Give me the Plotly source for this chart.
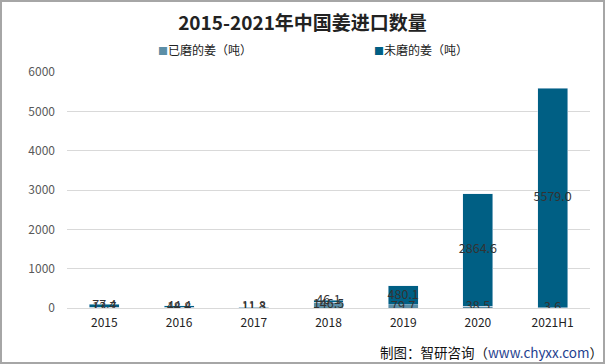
import plotly.graph_objects as go

categories = ["2015", "2016", "2017", "2018", "2019", "2020", "2021H1"]
ground = [13.7, 18.8, 11.3, 146.5, 79.7, 38.5, 3.6]
unground = [77.4, 44.4, 11.8, 46.1, 480.1, 2864.6, 5579.0]
y_ticks = [0, 1000, 2000, 3000, 4000, 5000, 6000]

name_ground = "已磨的姜（吨）"
name_unground = "未磨的姜（吨）"
c_ground = "#5b8ea6"
c_unground = "#005f84"

W, H = 605, 364
ml, mr, mt, mb = 67, 15, 72, 56
pw, ph = W - ml - mr, H - mt - mb


def px_x(x):
    return (x - ml) / pw


def px_y(y):
    return 1 - (y - mt) / ph


fig = go.Figure()
fig.add_trace(go.Bar(x=categories, y=ground, name=name_ground, marker_color=c_ground, showlegend=False))
fig.add_trace(go.Bar(x=categories, y=unground, name=name_unground, marker_color=c_unground, showlegend=False))

# labels centered in each segment
mid_g = [g / 2 for g in ground]
mid_u = [g + u / 2 for g, u in zip(ground, unground)]
fnt = dict(family="Microsoft YaHei, Noto Sans CJK SC, sans-serif", size=12.5, color="#333333")
fig.add_trace(go.Scatter(x=categories, y=mid_g, mode="text", text=[f"{v:.1f}" for v in ground],
                         textfont=fnt, showlegend=False, hoverinfo="skip"))
fig.add_trace(go.Scatter(x=categories, y=mid_u, mode="text", text=[f"{v:.1f}" for v in unground],
                         textfont=fnt, showlegend=False, hoverinfo="skip"))

fig.update_layout(
    width=W, height=H,
    margin=dict(l=ml, r=mr, t=mt, b=mb),
    barmode="stack", bargap=0.6,
    plot_bgcolor="white", paper_bgcolor="white",
    font=dict(family="Microsoft YaHei, Noto Sans CJK SC, sans-serif"),
    title=dict(text="<b>2015-2021年中国姜进口数量</b>", x=0.5, xanchor="center", y=1 - 23 / H, yanchor="middle",
               font=dict(size=19, color="#222222", family="Noto Sans CJK SC, sans-serif")),
    xaxis=dict(showgrid=False, showline=False, ticks="", tickfont=dict(size=12, color="#222222"),
               categoryorder="array", categoryarray=categories, ticklabelstandoff=6),
    yaxis=dict(range=[0, 6000], tickvals=y_ticks, showgrid=True, gridcolor="#d9d9d9", gridwidth=1,
               zeroline=True, zerolinecolor="#d9d9d9", zerolinewidth=1,
               tickfont=dict(size=12, color="#595959"), ticks="", ticklabelstandoff=11),
    showlegend=False,
)

# legend drawn as text annotations
for xpix, name, col in [(156, name_ground, c_ground), (372, name_unground, c_unground)]:
    fig.add_annotation(xref="paper", yref="paper", x=px_x(xpix), y=px_y(49), xanchor="left", yanchor="middle",
                       showarrow=False,
                       text=f"<span style='color:{col};font-size:10px'>■</span>{name}",
                       font=dict(size=12, color="#222222"))

# outer frame
fig.add_shape(type="rect", xref="paper", yref="paper",
              x0=px_x(1), x1=px_x(W - 1), y0=px_y(H - 1), y1=px_y(1),
              line=dict(color="#a6a6a6", width=2), fillcolor="rgba(0,0,0,0)", layer="above")

fig.add_annotation(xref="paper", yref="paper", x=px_x(605), y=px_y(352),
                   xanchor="right", yanchor="middle", showarrow=False,
                   text="制图：智研咨询（<span style='color:#1f3f8f'>www.chyxx.com</span>）",
                   font=dict(size=13.5, color="#111111"))

fig.write_html("out.html", config={"displayModeBar": False},
               post_script="document.body.style.margin='0px';document.body.style.overflow='hidden';")
